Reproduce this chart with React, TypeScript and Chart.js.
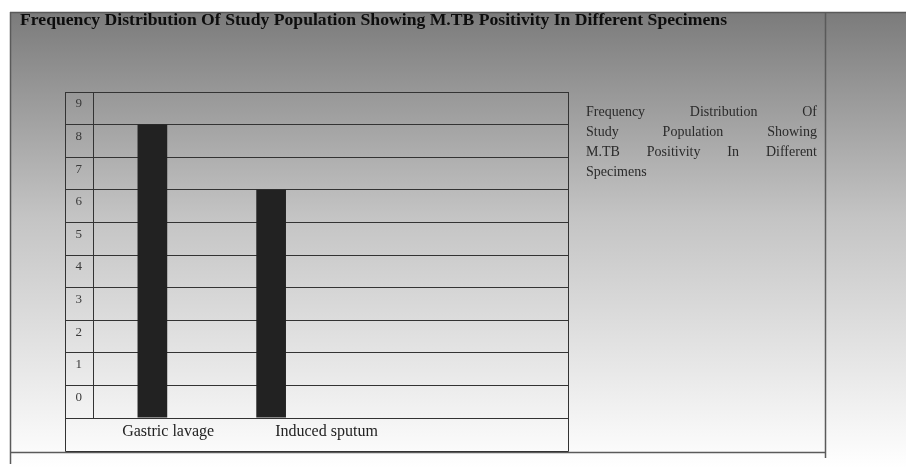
import React, { useEffect, useRef } from 'react';
import { Chart, registerables } from 'chart.js';

Chart.register(...registerables);

const TITLE = 'Frequency Distribution Of Study Population Showing M.TB Positivity In Different Specimens';
const CATEGORIES = ['Gastric lavage', 'Induced sputum', '', ''];
const LABEL_SLOTS = ['Gastric lavage', 'Induced sputum', ''];
const VALUES = [8, 6, null, null];
const Y_MIN = -1;
const Y_MAX = 9;
const LEGEND_LINES = [
  ['Frequency', 'Distribution', 'Of'],
  ['Study', 'Population', 'Showing'],
  ['M.TB', 'Positivity', 'In', 'Different'],
  ['Specimens'],
];

const decor = {
  id: 'decor',
  beforeDraw(chart: any) {
    const { ctx, width, height } = chart;
    ctx.save();
    ctx.fillStyle = '#ffffff';
    ctx.fillRect(0, 0, width, height);
    const g = ctx.createLinearGradient(0, 12, 0, height);
    g.addColorStop(0, '#7b7b7b');
    g.addColorStop(0.45, '#c4c4c4');
    g.addColorStop(1, '#ffffff');
    ctx.fillStyle = g;
    ctx.fillRect(10, 12, width - 10, height - 12);
    ctx.strokeStyle = '#5a5a5a';
    ctx.lineWidth = 1.5;
    ctx.beginPath();
    ctx.moveTo(10, 12.5);
    ctx.lineTo(width, 12.5);
    ctx.moveTo(10.5, 12);
    ctx.lineTo(10.5, 464);
    ctx.moveTo(825.5, 12);
    ctx.lineTo(825.5, 458);
    ctx.moveTo(10, 452.5);
    ctx.lineTo(826, 452.5);
    ctx.stroke();
    ctx.restore();
  },
  afterDraw(chart: any) {
    const { ctx, chartArea } = chart;
    ctx.save();
    ctx.strokeStyle = '#333333';
    ctx.lineWidth = 1;
    const left = 65.5;
    const right = Math.round(chartArea.right) + 0.5;
    const bottom = 451.5;
    ctx.beginPath();
    ctx.moveTo(left, chartArea.top);
    ctx.lineTo(left, bottom);
    ctx.lineTo(right, bottom);
    ctx.lineTo(right, chartArea.top);
    ctx.stroke();

    ctx.fillStyle = '#0d0d0d';
    ctx.font = 'bold 17px "Liberation Serif"';
    ctx.textBaseline = 'middle';
    ctx.textAlign = 'left';
    const tw = ctx.measureText(TITLE).width;
    ctx.save();
    ctx.translate(20, 21);
    ctx.scale(707 / tw, 1);
    ctx.fillText(TITLE, 0, 0);
    ctx.restore();

    ctx.font = '14px "Liberation Serif"';
    ctx.fillStyle = '#2a2a2a';
    const x0 = 586;
    const x1 = 817;
    LEGEND_LINES.forEach((words, i) => {
      const y = 112 + i * 20;
      if (i === LEGEND_LINES.length - 1 || words.length === 1) {
        ctx.fillText(words.join(' '), x0, y);
        return;
      }
      const widths = words.map((w) => ctx.measureText(w).width);
      const total = widths.reduce((a, b) => a + b, 0);
      const gap = (x1 - x0 - total) / (words.length - 1);
      let x = x0;
      words.forEach((w, k) => {
        ctx.fillText(w, x, y);
        x += widths[k] + gap;
      });
    });
    ctx.restore();
  },
};

export default function App() {
  const ref = useRef<HTMLCanvasElement | null>(null);
  useEffect(() => {
    if (!ref.current) return;
    const chart = new Chart(ref.current, {
      type: 'bar',
      data: {
        labels: CATEGORIES,
        datasets: [
          {
            data: VALUES as any,
            base: Y_MIN,
            backgroundColor: '#222222',
            borderWidth: 0,
            barPercentage: 0.25,
            categoryPercentage: 1,
            xAxisID: 'x',
            yAxisID: 'y',
          } as any,
        ],
      },
      options: {
        responsive: false,
        animation: false,
        layout: { padding: { left: 65, right: 338, top: 92, bottom: 16 } },
        plugins: {
          legend: { display: false },
          title: { display: false },
          tooltip: { enabled: false },
        },
        scales: {
          x: {
            type: 'category',
            display: false,
          },
          xl: {
            type: 'category',
            position: 'bottom',
            labels: LABEL_SLOTS,
            grid: { display: false },
            border: { display: false },
            ticks: {
              color: '#222222',
              font: { family: '"Liberation Serif"', size: 16 },
              padding: -4,
              labelOffset: -4,
              maxRotation: 0,
              autoSkip: false,
            },
            afterFit: (s: any) => {
              s.height = 34;
            },
          },
          y: {
            type: 'linear',
            min: Y_MIN,
            max: Y_MAX,
            grid: { color: '#333333', lineWidth: 1, tickLength: 28, drawTicks: true },
            border: { display: true, color: '#333333', width: 1 },
            ticks: {
              stepSize: 1,
              color: '#3a3a3a',
              font: { family: '"Liberation Serif"', size: 13 },
              padding: -17,
              labelOffset: 12,
              callback: (v: any) => (Number(v) < 0 ? '' : String(v)),
            },
            afterFit: (s: any) => {
              s.width = 28;
            },
          },
        },
      } as any,
      plugins: [decor],
    });
    return () => chart.destroy();
  }, []);
  return (
    <div style={{ position: 'fixed', left: 0, top: 0, width: 906, height: 468 }}>
      <canvas ref={ref} width={906} height={468} style={{ display: 'block' }} />
    </div>
  );
}
